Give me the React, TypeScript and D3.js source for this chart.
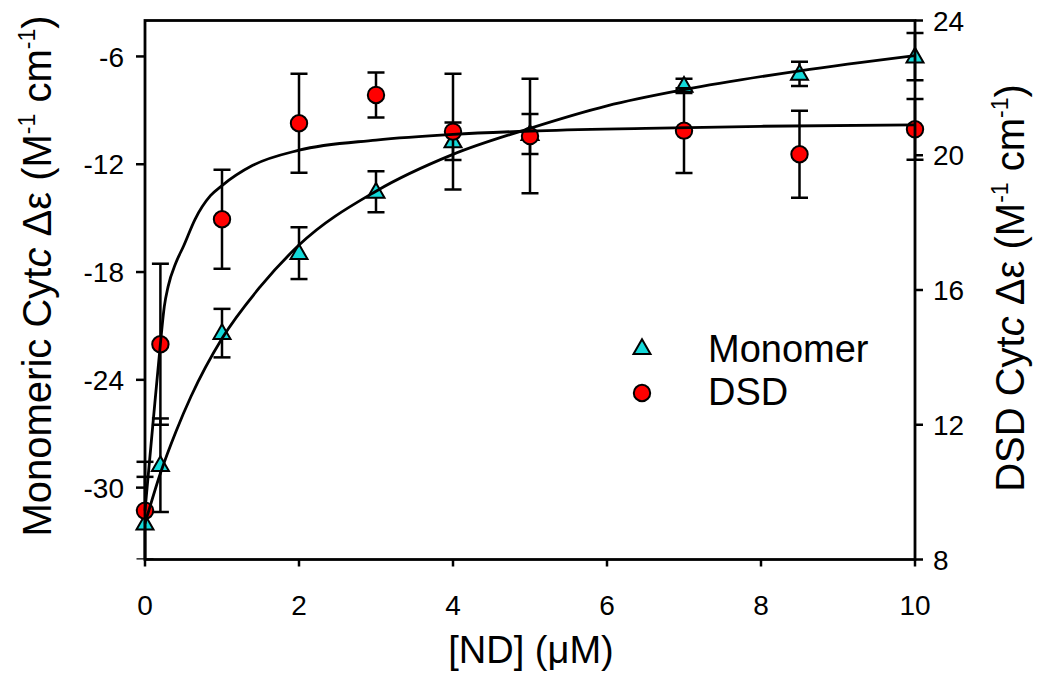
import React from "react";
import * as d3 from "d3";

// ---- data ----
const concentrations = [0, 0.2, 1, 2, 3, 4, 5, 7, 8.5, 10];
const monomerValues = [-32.0, -28.75, -21.4, -16.95, -13.53, -10.72, -10.32, -7.64, -6.97, -6.01];
const monomerErrors = [2.6, 2.6, 1.35, 1.44, 1.14, 1.04, 1.11, 0.4, 0.68, 1.32];
const dsdValues = [9.45, 14.39, 18.1, 20.95, 21.79, 20.7, 20.57, 20.73, 20.03, 20.77];
const dsdErrors = [1.45, 2.39, 1.47, 1.47, 0.67, 1.72, 1.7, 1.26, 1.29, 0.9];

const monomerFitX = [0, 0.2, 0.4, 0.6, 1, 1.5, 2, 3, 4, 5, 6, 7, 8.5, 10];
const monomerFitY = [-32.0, -29.2, -26.9, -24.9, -21.7, -18.8, -16.5, -13.5, -11.45, -10.0, -8.75, -7.85, -6.8, -5.95];
const dsdFitX = [0, 0.1, 0.2, 0.25, 0.3, 0.4, 0.5, 0.65, 0.85, 1, 1.4, 2, 3, 4, 5, 6.5, 8, 10];
const dsdFitY = [9.45, 11.95, 14.4, 15.5, 16.1, 16.8, 17.3, 18.1, 18.8, 19.1, 19.7, 20.15, 20.45, 20.62, 20.72, 20.8, 20.86, 20.9];

const xTicks = [0, 2, 4, 6, 8, 10];
const leftTicks = [-30, -24, -18, -12, -6];
const rightTicks = [8, 12, 16, 20, 24];
const legendLabels = ["Monomer", "DSD"];

const FONT = "'Liberation Sans', Arial, Helvetica, sans-serif";

export default function App() {
  const W = 1050, H = 678;
  const L = 145, R = 915, T = 20.5, B = 559.5;
  const x = d3.scaleLinear().domain([0, 10]).range([L, R]);
  const yL = d3.scaleLinear().domain([-34, -4]).range([B, T]);
  const yR = d3.scaleLinear().domain([8, 24]).range([B, T]);

  const lineL = d3.line<number>().x((_, i) => x(monomerFitX[i])).y((d) => yL(d)).curve(d3.curveMonotoneX);
  const lineR = d3.line<number>().x((_, i) => x(dsdFitX[i])).y((d) => yR(d)).curve(d3.curveMonotoneX);
  const tri = d3.symbol().type(d3.symbolTriangle).size(125)() as string;
  const cap = 8.5;
  const cyan = "#14d9d9";
  const red = "#ff0000";
  const sw = 2.5;

  const errBar = (cx: number, y1: number, y2: number, key: string) => (
    <g key={key}>
      <line x1={cx} x2={cx} y1={y1} y2={y2} stroke="#000" strokeWidth={sw} />
      <line x1={cx - cap} x2={cx + cap} y1={y1} y2={y1} stroke="#000" strokeWidth={sw} />
      <line x1={cx - cap} x2={cx + cap} y1={y2} y2={y2} stroke="#000" strokeWidth={sw} />
    </g>
  );

  const sup = (k: string) => [
    <tspan key={k + "a"} fontSize={23} dy={-16}>-1</tspan>,
  ];

  return (
    <svg width={W} height={H} style={{ position: "absolute", left: 0, top: 0, background: "#fff" }} fontFamily={FONT}>
      <defs>
        <clipPath id="plotclip">
          <rect x={0} y={T} width={W} height={B - T} />
        </clipPath>
      </defs>
      {/* monomer error bars and markers */}
      <g clipPath="url(#plotclip)">
        {concentrations.map((c, i) =>
          errBar(x(c), yL(monomerValues[i] + monomerErrors[i]), yL(monomerValues[i] - monomerErrors[i]), "me" + i)
        )}
      </g>
      {concentrations.map((c, i) => (
        <path key={"mt" + i} d={tri} transform={`translate(${x(c)},${yL(monomerValues[i]) + 1})`} fill={cyan} stroke="#000" strokeWidth={2} />
      ))}
      {/* DSD error bars and markers */}
      <g clipPath="url(#plotclip)">
        {concentrations.map((c, i) =>
          errBar(x(c), yR(dsdValues[i] + dsdErrors[i]), yR(dsdValues[i] - dsdErrors[i]), "de" + i)
        )}
      </g>
      {concentrations.map((c, i) => (
        <circle key={"dc" + i} cx={x(c)} cy={yR(dsdValues[i])} r={8.2} fill={red} stroke="#000" strokeWidth={2} />
      ))}
      {/* fitted curves */}
      <path d={lineL(monomerFitY) as string} fill="none" stroke="#000" strokeWidth={2.8} />
      <path d={lineR(dsdFitY) as string} fill="none" stroke="#000" strokeWidth={2.8} />

      {/* frame */}
      <rect x={L} y={T} width={R - L} height={B - T} fill="none" stroke="#000" strokeWidth={2.8} />

      {/* x axis */}
      {xTicks.map((t) => (
        <g key={"xt" + t}>
          <line x1={x(t)} x2={x(t)} y1={B} y2={B + 7} stroke="#000" strokeWidth={2.5} />
          <text x={x(t)} y={615} fontSize={28} textAnchor="middle" fill="#000">{t}</text>
        </g>
      ))}
      <text x={531} y={663} fontSize={38} textAnchor="middle" fill="#000">[ND] (μM)</text>

      {/* left axis */}
      {leftTicks.map((t) => (
        <g key={"yl" + t}>
          <line x1={L - 9} x2={L} y1={yL(t)} y2={yL(t)} stroke="#000" strokeWidth={2.5} />
          <text x={124} y={yL(t)} dy="0.36em" fontSize={28} textAnchor="end" fill="#000">{t}</text>
        </g>
      ))}
      <text transform="translate(51,276) rotate(-90)" fontSize={40} textAnchor="middle" fill="#000">
        Monomeric Cyt<tspan fontStyle="italic">c</tspan> Δε (M{sup("l1")}<tspan dy={16}> cm</tspan>{sup("l2")}<tspan dy={16}>)</tspan>
      </text>

      {/* right axis */}
      {rightTicks.map((t) => (
        <g key={"yr" + t}>
          <line x1={R} x2={R + 8} y1={yR(t)} y2={yR(t)} stroke="#000" strokeWidth={2.5} />
          <text x={933} y={yR(t)} dy="0.36em" fontSize={28} textAnchor="start" fill="#000">{t}</text>
        </g>
      ))}
      <text transform="translate(1024,288) rotate(-90)" fontSize={40} textAnchor="middle" fill="#000">
        DSD Cyt<tspan fontStyle="italic">c</tspan> Δε (M{sup("r1")}<tspan dy={16}> cm</tspan>{sup("r2")}<tspan dy={16}>)</tspan>
      </text>

      {/* legend */}
      <path d={tri} transform="translate(642,349)" fill={cyan} stroke="#000" strokeWidth={2} />
      <circle cx={642} cy={393} r={8.2} fill={red} stroke="#000" strokeWidth={2} />
      <text x={708} y={362} fontSize={38} fill="#000">{legendLabels[0]}</text>
      <text x={708} y={405} fontSize={38} fill="#000">{legendLabels[1]}</text>
    </svg>
  );
}
